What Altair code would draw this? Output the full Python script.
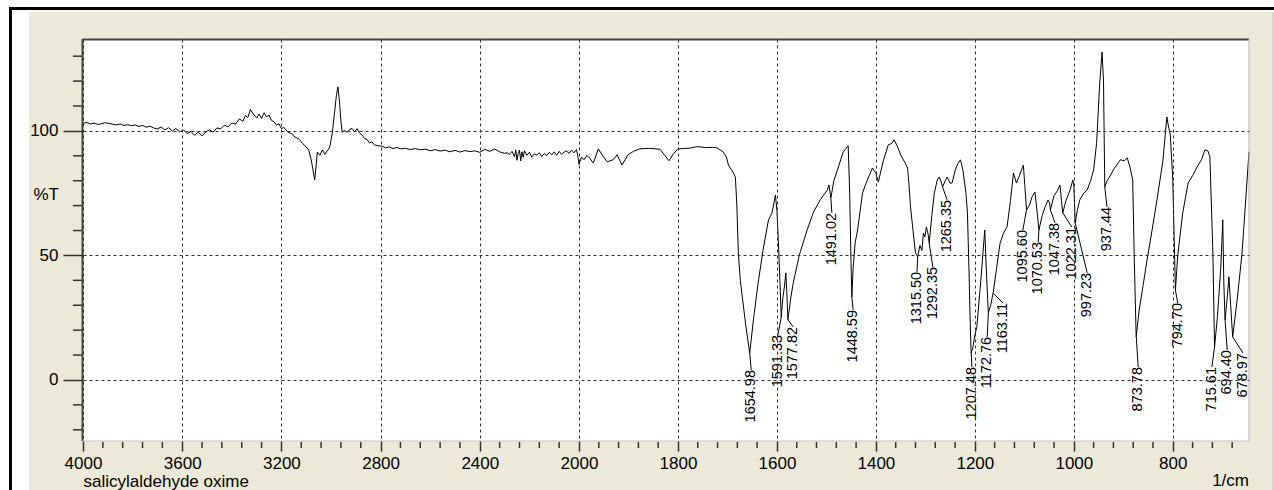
import altair as alt
import pandas as pd

# ---------------- data ----------------
wavenumber = [
    4000, 3985, 3970, 3955, 3940, 3925, 3910, 3895, 3880, 3865, 3850, 3835, 3820, 3805, 3790,
    3775, 3760, 3745, 3730, 3715, 3700, 3685, 3670, 3655, 3640, 3625, 3610, 3595, 3580, 3565,
    3550, 3535, 3520, 3505, 3490, 3475, 3460, 3445, 3430, 3415, 3400, 3385, 3370, 3355, 3345,
    3335, 3325, 3315, 3300, 3290, 3280, 3270, 3260, 3250, 3240, 3230, 3220, 3210, 3200, 3190,
    3175, 3160, 3145, 3130, 3115, 3100, 3090, 3080, 3072, 3066, 3060, 3055, 3045, 3035, 3025,
    3015, 3005, 2995, 2985, 2978, 2972, 2966, 2960, 2955, 2945, 2935, 2925, 2915, 2905, 2895,
    2885, 2875, 2865, 2855, 2845, 2835, 2825, 2810, 2795, 2780, 2765, 2750, 2735, 2720, 2700,
    2680, 2660, 2640, 2620, 2600, 2580, 2560, 2540, 2520, 2500, 2480, 2460, 2440, 2420, 2400,
    2380, 2360, 2340, 2320, 2300, 2290, 2280, 2270, 2260, 2255, 2250, 2245, 2240, 2235, 2230,
    2225, 2220, 2210, 2200, 2190, 2180, 2170, 2160, 2150, 2140, 2130, 2120, 2110, 2100, 2090,
    2080, 2070, 2060, 2050, 2040, 2030, 2020, 2010, 2005, 2000, 1995, 1990, 1984, 1978, 1971,
    1961, 1952, 1943, 1931, 1923, 1913, 1901, 1890, 1877, 1860, 1845, 1836, 1828, 1818, 1810,
    1800, 1790, 1775, 1761, 1745, 1730, 1721, 1709, 1702, 1698, 1694, 1690, 1684, 1681, 1678,
    1674, 1670, 1663, 1655, 1647, 1638, 1628, 1617, 1610, 1603, 1600, 1597, 1594, 1591.3, 1588,
    1585, 1582, 1580, 1577.8, 1572, 1567, 1555, 1539, 1526, 1512, 1498, 1495, 1491, 1485, 1475,
    1466, 1456, 1453, 1450.5, 1448.6, 1446, 1442, 1437, 1427, 1420, 1407, 1400, 1395, 1385, 1375,
    1368, 1363, 1357, 1350, 1342, 1336, 1333, 1330, 1325, 1320, 1315.5, 1311, 1307, 1304, 1301,
    1298, 1294, 1292.3, 1287, 1282, 1276, 1272, 1268, 1265.3, 1260, 1256, 1250, 1246, 1240, 1234,
    1229, 1224, 1218, 1215, 1212, 1209, 1207.5, 1204, 1200, 1196, 1188, 1180, 1177, 1172.8, 1168,
    1163.1, 1156, 1149, 1142, 1135, 1128, 1122, 1116, 1110, 1102, 1099, 1095.6, 1090, 1084.5, 1078.5,
    1074, 1070.5, 1064, 1058, 1052, 1049, 1047.4, 1040, 1033, 1028, 1025, 1022.3, 1016, 1008, 1002,
    1000, 997.2, 993, 988, 980, 973, 966, 960, 954, 948, 943, 940, 938.5, 937.4, 934,
    928, 918, 906, 898, 892, 886, 881, 878, 874, 868, 860, 852, 842, 832, 820,
    812, 808, 805, 800, 797, 794.7, 790, 780, 769, 760, 751, 742, 735, 729, 725,
    719, 715.6, 710, 703, 699, 697, 694.4, 690, 686.6, 683, 679, 670, 660, 646,
]
transmittance = [
    103.0, 103.4, 102.8, 103.1, 102.6, 102.9, 103.3, 103.0, 102.7, 102.4, 102.8, 102.2, 102.5, 102.1, 102.4,
    101.8, 102.2, 101.5, 101.9, 101.2, 100.8, 101.6, 100.4, 101.3, 100.0, 100.9, 99.6, 100.4, 98.9, 99.8,
    98.2, 99.5, 98.0, 99.6, 100.4, 99.5, 101.2, 100.8, 102.3, 101.6, 103.2, 102.7, 104.8, 103.9, 106.2,
    105.4, 108.6, 107.0, 105.2, 106.8, 105.0, 107.3, 105.6, 106.4, 104.2, 103.7, 102.3, 102.8, 100.9, 101.4,
    99.6, 98.9, 97.5, 96.8, 95.0, 93.6, 92.3, 88.5, 84.0, 80.3, 86.0, 91.5, 90.2, 92.4, 90.6,
    92.0, 93.5, 99.0, 108.0, 114.5, 117.7, 112.0, 104.0, 99.5, 100.3, 99.4, 100.6, 101.0, 99.6, 100.9,
    99.2, 98.4, 97.0, 96.6, 95.2, 95.6, 94.4, 94.0, 93.9, 93.2, 93.6, 92.9, 93.4, 92.8, 93.0,
    92.5, 92.9, 92.4, 92.7, 92.0, 92.5, 91.9, 92.3, 91.6, 92.2, 91.5, 92.1, 91.7, 92.0, 91.4,
    92.6, 91.8, 92.7, 91.6, 91.0, 91.2, 90.6, 91.8, 89.6, 92.4, 88.2, 91.0, 92.3, 88.0, 91.6,
    89.4, 92.0, 90.2, 91.4, 89.5, 90.8, 90.3, 91.2, 89.8, 90.9, 90.1, 91.4, 90.4, 91.6, 90.2,
    91.8, 90.6, 91.5, 92.0, 90.9, 92.3, 91.2, 92.5, 90.0, 86.5, 89.5, 88.4, 90.2, 89.0, 87.1,
    92.8, 90.0, 87.6, 88.4, 90.4, 86.3, 90.4, 91.8, 92.8, 93.0, 92.8, 92.6, 90.5, 88.0, 90.6,
    92.8, 92.9, 93.1, 93.7, 93.3, 93.4, 93.2, 91.6, 89.5, 86.3, 85.0, 83.9, 81.5, 70.0, 51.0,
    40.0, 33.3, 22.0, 10.8, 25.0, 39.0, 52.2, 64.3, 67.0, 74.3, 68.0, 55.0, 40.0, 25.3, 33.0,
    37.3, 43.0, 35.0, 24.1, 33.0, 39.0, 50.0, 60.2, 67.5, 72.5, 76.3, 78.3, 73.1, 80.0, 86.0,
    91.6, 94.0, 75.0, 49.4, 33.3, 45.0, 55.0, 60.2, 75.1, 79.0, 85.1, 83.0, 79.5, 88.0, 94.4,
    95.0, 96.4, 94.0, 90.4, 87.5, 85.1, 78.0, 69.5, 60.0, 51.0, 49.4, 54.0, 52.0, 59.0, 57.5,
    61.4, 58.0, 55.0, 66.0, 75.0, 80.3, 81.5, 79.5, 77.5, 80.0, 81.5, 79.0, 79.1, 84.0, 87.0,
    88.4, 84.0, 75.0, 67.1, 45.0, 20.0, 10.8, 13.0, 18.0, 21.3, 40.0, 60.2, 45.0, 26.9, 30.0,
    34.9, 45.0, 55.0, 59.0, 61.4, 72.0, 83.1, 79.1, 82.0, 86.3, 78.0, 68.3, 70.0, 73.5, 75.5,
    67.0, 60.2, 66.0, 69.5, 72.3, 71.0, 68.3, 74.0, 76.0, 78.3, 72.0, 67.1, 72.0, 76.0, 80.3,
    78.0, 63.1, 68.0, 72.3, 75.0, 76.3, 80.0, 84.3, 95.0, 118.0, 131.7, 120.0, 95.0, 77.5, 79.5,
    81.5, 85.0, 88.4, 88.0, 89.2, 85.0, 80.3, 50.0, 17.3, 28.0, 38.0, 48.2, 60.0, 72.3, 88.0,
    105.6, 101.0, 98.4, 80.3, 55.0, 36.1, 50.0, 67.0, 79.1, 82.0, 85.5, 88.5, 92.4, 92.0, 89.6,
    51.0, 13.3, 25.0, 45.0, 64.3, 40.0, 24.1, 33.0, 41.4, 30.0, 17.3, 32.0, 51.0, 91.6,
]

peak_text = ["1654.98", "1591.33", "1577.82", "1491.02", "1448.59", "1315.50", "1292.35",
             "1265.35", "1207.48", "1172.76", "1163.11", "1095.60", "1070.53", "1047.38",
             "1022.31", "997.23", "937.44", "873.78", "794.70", "715.61", "694.40", "678.97"]
peak_wn = [1654.98, 1591.33, 1577.82, 1491.02, 1448.59, 1315.50, 1292.35,
           1265.35, 1207.48, 1172.76, 1163.11, 1095.60, 1070.53, 1047.38,
           1022.31, 997.23, 937.44, 873.78, 794.70, 715.61, 694.40, 678.97]
peak_T = [10.8, 25.3, 24.1, 73.1, 33.3, 49.4, 55.0,
          77.5, 10.8, 26.9, 34.9, 68.3, 60.2, 68.3,
          67.1, 63.1, 77.5, 17.3, 36.1, 13.3, 24.1, 17.3]
label_wn = [1652, 1598, 1567, 1489, 1446, 1317, 1285,
            1256, 1206, 1175, 1143, 1103, 1072, 1038,
            1004, 973, 933, 870, 790, 721, 690, 658]
label_top = [4.0, 18.1, 21.3, 67.1, 28.1, 43.4, 45.4,
             72.3, 5.2, 17.3, 30.9, 60.2, 55.4, 63.1,
             61.4, 43.0, 69.5, 5.2, 30.9, 5.2, 12.0, 10.8]

x_ticks = [4000, 3600, 3200, 2800, 2400, 2000, 1800, 1600, 1400, 1200, 1000, 800]
x_minor = [3920, 3840, 3760, 3680, 3520, 3440, 3360, 3280, 3120, 3040, 2960, 2880,
           2720, 2640, 2560, 2480, 2320, 2240, 2160, 2080,
           1960, 1920, 1880, 1840, 1760, 1720, 1680, 1640, 1560, 1520, 1480, 1440,
           1360, 1320, 1280, 1240, 1160, 1120, 1080, 1040, 960, 920, 880, 840,
           760, 720, 680]
y_ticks = [0, 50, 100]
y_minor = [-20, -10, 10, 20, 30, 40, 60, 70, 80, 90, 110, 120, 130]

# ---------------- layout constants ----------------
W, H = 1166, 402
FONT = "Liberation Sans"
BEIGE = "#ECE9D8"

spec = pd.DataFrame({"wn": wavenumber, "T": transmittance})
peaks = pd.DataFrame({"label": peak_text, "wn": peak_wn, "T": peak_T,
                      "lx": label_wn, "lt": label_top})
xminor = pd.DataFrame({"wn": x_minor})
yminor = pd.DataFrame({"T": y_minor})
one = pd.DataFrame({"a": [0]})

xscale = alt.Scale(domain=[4000, 2000, 646], range=[0, 496, W], nice=False, zero=False)
yscale = alt.Scale(domain=[-24.5, 136.9], nice=False, zero=False)


def box(x, x2, y, y2, color):
    return alt.Chart(one).mark_rect(color=color, strokeWidth=0).encode(
        x=alt.value(x), x2=alt.value(x2), y=alt.value(y), y2=alt.value(y2))


def hline(x, x2, y, color, w):
    return alt.Chart(one).mark_rule(color=color, strokeWidth=w).encode(
        x=alt.value(x), x2=alt.value(x2), y=alt.value(y))


def vline(x, y, y2, color, w):
    return alt.Chart(one).mark_rule(color=color, strokeWidth=w).encode(
        x=alt.value(x), y=alt.value(y), y2=alt.value(y2))


frame_black = box(-74, 1200, -32, 470, "#000000")
frame_white = box(-71, 1200, -29, 470, "#ffffff")
frame_beige = box(-54, 1189, -27, 470, BEIGE)
frame_edge = box(1189, 1191, -27, 470, "#d6d6d6")
plot_bg = box(0, W, 0, H, "#ffffff")

border_top = hline(0, W, 0.5, "#444444", 2)
border_left = vline(-0.5, 0, H, "#444444", 2)
border_right = vline(W, 0, H, "#b8b8b8", 1)
border_bottom = hline(0, W, H, "#c4c4c4", 1)

x_minor_ticks = alt.Chart(xminor).mark_rule(color="#333333", strokeWidth=1.5).encode(
    x=alt.X("wn:Q", scale=xscale), y=alt.value(H + 1), y2=alt.value(H + 7))
y_minor_ticks = alt.Chart(yminor).mark_rule(color="#333333", strokeWidth=1.5).encode(
    y=alt.Y("T:Q", scale=yscale), x=alt.value(-10), x2=alt.value(0))

spectrum = alt.Chart(spec).mark_line(color="#000000", strokeWidth=1).encode(
    x=alt.X("wn:Q", scale=xscale,
            axis=alt.Axis(values=x_ticks, format="d", tickSize=10, tickColor="#333333",
                          tickWidth=1.5, labelFontSize=17, labelColor="#000000",
                          labelFont=FONT, labelPadding=4, labelFlush=False,
                          labelOverlap=False, domain=False, grid=True,
                          gridDash=[3, 3], gridColor="#333333", gridWidth=1,
                          title="salicylaldehyde oxime", titleAnchor="start",
                          titleAlign="left", titleX=0, titleY=45,
                          titleBaseline="alphabetic", titleFontSize=17,
                          titleFontWeight="normal", titleFont=FONT,
                          titleColor="#000000", zindex=1)),
    y=alt.Y("T:Q", scale=yscale,
            axis=alt.Axis(values=y_ticks, tickSize=20, tickColor="#333333",
                          tickWidth=1.5, labelFontSize=17, labelColor="#000000",
                          labelFont=FONT, labelPadding=5, labelOverlap=False,
                          labelFlush=False, domain=False, grid=True,
                          gridDash=[3, 3], gridColor="#333333", gridWidth=1,
                          title="%T", titleAngle=0, titleX=-50, titleY=155,
                          titleAlign="left", titleBaseline="middle",
                          titleFontSize=17, titleFontWeight="normal",
                          titleFont=FONT, titleColor="#000000", zindex=1)),
    order=alt.Order("wn:Q", sort="descending"),
)

leaders = alt.Chart(peaks).mark_rule(color="#000000", strokeWidth=1).encode(
    x=alt.X("wn:Q", scale=xscale), y=alt.Y("T:Q", scale=yscale),
    x2="lx:Q", y2="lt:Q")

labels = alt.Chart(peaks).mark_text(
    angle=270, align="right", baseline="middle", fontSize=14.5, font=FONT,
    color="#000000").encode(
    x=alt.X("lx:Q", scale=xscale), y=alt.Y("lt:Q", scale=yscale), text="label:N")

unit = alt.Chart(one).mark_text(
    align="right", baseline="alphabetic", fontSize=17, font=FONT, color="#000000").encode(
    x=alt.value(W), y=alt.value(H + 45), text=alt.value("1/cm"))

chart = alt.layer(
    frame_black, frame_white, frame_beige, frame_edge, plot_bg,
    x_minor_ticks, y_minor_ticks,
    spectrum, leaders, labels,
    border_top, border_left, border_right, border_bottom, unit,
).properties(
    width=W, height=H,
    autosize=alt.AutoSizeParams(type="none"),
    padding={"left": 83, "top": 39, "right": 25, "bottom": 49},
    background="#ffffff",
).configure_view(stroke=None).configure(font=FONT)

chart.save("out.html", embed_options={"renderer": "svg", "actions": False})
